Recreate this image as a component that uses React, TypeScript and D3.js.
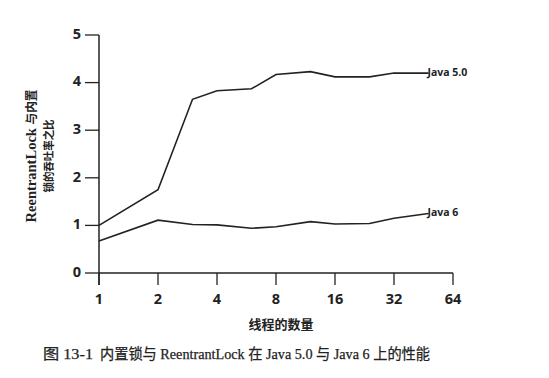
import React from "react";
import * as d3 from "d3";

const threads = [1, 2, 3, 4, 6, 8, 12, 16, 24, 32, 48];
const java5 = [1.0, 1.75, 3.65, 3.83, 3.87, 4.17, 4.23, 4.12, 4.12, 4.2, 4.2];
const java6 = [0.67, 1.11, 1.02, 1.01, 0.94, 0.97, 1.08, 1.03, 1.04, 1.15, 1.25];
const xTicks = [1, 2, 4, 8, 16, 32, 64];
const yTicks = [0, 1, 2, 3, 4, 5];
const seriesNames = ["Java 5.0", "Java 6"];

const W = 549;
const H = 378;

export default function App() {
  const x = d3.scaleLog().base(2).domain([1, 64]).range([99, 453]);
  const y = d3.scaleLinear().domain([0, 5]).range([273, 35]);
  const line = d3
    .line<[number, number]>()
    .x((d) => x(d[0]))
    .y((d) => y(d[1]));
  const series = [java5, java6];
  const tickFont = "'Open Sans', 'DejaVu Sans', sans-serif";
  const cjk = "'Liberation Serif', 'Noto Sans CJK SC', serif";
  return (
    <svg
      width={W}
      height={H}
      style={{ position: "absolute", left: 0, top: 0, background: "#fff" }}
    >
      {/* y axis */}
      <line x1={x(1)} x2={x(1)} y1={y(5)} y2={y(0) + 12} stroke="#222" strokeWidth={1.5} />
      {yTicks.map((t) => (
        <g key={t}>
          <line x1={85} x2={x(1)} y1={y(t)} y2={y(t)} stroke="#222" strokeWidth={1.3} />
          <text
            x={81}
            y={y(t)}
            textAnchor="end"
            dominantBaseline="middle"
            fontFamily={tickFont}
            fontWeight={700}
            fontSize={14.5}
            fill="#222"
          >
            {t}
          </text>
        </g>
      ))}
      {/* x axis */}
      <line x1={x(1)} x2={x(64)} y1={y(0)} y2={y(0)} stroke="#222" strokeWidth={1.5} />
      {xTicks.map((t) => (
        <g key={t}>
          <line x1={x(t)} x2={x(t)} y1={y(0)} y2={y(0) + 12} stroke="#222" strokeWidth={1.3} />
          <text
            x={x(t)}
            y={300}
            textAnchor="middle"
            dominantBaseline="middle"
            fontFamily={tickFont}
            fontWeight={700}
            fontSize={14.5}
            fill="#222"
          >
            {t}
          </text>
        </g>
      ))}
      {/* lines */}
      {series.map((s, i) => (
        <path
          key={i}
          d={line(threads.map((t, j) => [t, s[j]] as [number, number])) || ""}
          fill="none"
          stroke="#222"
          strokeWidth={1.6}
        />
      ))}
      {series.map((s, i) => (
        <text
          key={"l" + i}
          x={x(threads[threads.length - 1]) - 1}
          y={y(s[s.length - 1])}
          dominantBaseline="middle"
          fontFamily={tickFont}
          fontWeight={700}
          fontSize={10.5}
          fill="#222"
        >
          {seriesNames[i]}
        </text>
      ))}
      {/* y title */}
      <g transform="translate(33,156) rotate(-90)">
        <text
          textAnchor="middle"
          dominantBaseline="middle"
          fill="#222"
          fontWeight={700}
          textLength={133}
          lengthAdjust="spacingAndGlyphs"
        >
          <tspan fontFamily="'Liberation Serif', serif" fontSize={15}>ReentrantLock </tspan>
          <tspan fontFamily="'Noto Sans CJK SC', sans-serif" fontSize={12}>与内置</tspan>
        </text>
      </g>
      <g transform="translate(50,156) rotate(-90)">
        <text
          textAnchor="middle"
          dominantBaseline="middle"
          fill="#222"
          fontWeight={700}
          fontFamily="'Noto Sans CJK SC', sans-serif"
          fontSize={11}
          textLength={73}
          lengthAdjust="spacingAndGlyphs"
        >
          锁的吞吐率之比
        </text>
      </g>
      {/* x title */}
      <text
        x={281}
        y={325}
        textAnchor="middle"
        dominantBaseline="middle"
        fontFamily="'Noto Sans CJK SC', sans-serif"
        fontWeight={700}
        fontSize={13}
        fill="#222"
      >
        线程的数量
      </text>
      {/* caption */}
      <text
        x={43}
        y={356}
        dominantBaseline="middle"
        fontFamily={cjk}
        fontSize={14.5}
        fill="#222"
        stroke="#222"
        strokeWidth={0.25}
        textLength={50}
        lengthAdjust="spacingAndGlyphs"
      >
        图 13-1
      </text>
      <text
        x={100}
        y={356}
        dominantBaseline="middle"
        fontFamily={cjk}
        fontSize={14.5}
        fill="#222"
        stroke="#222"
        strokeWidth={0.25}
        textLength={330}
        lengthAdjust="spacingAndGlyphs"
      >
        内置锁与 ReentrantLock 在 Java 5.0 与 Java 6 上的性能
      </text>
    </svg>
  );
}
